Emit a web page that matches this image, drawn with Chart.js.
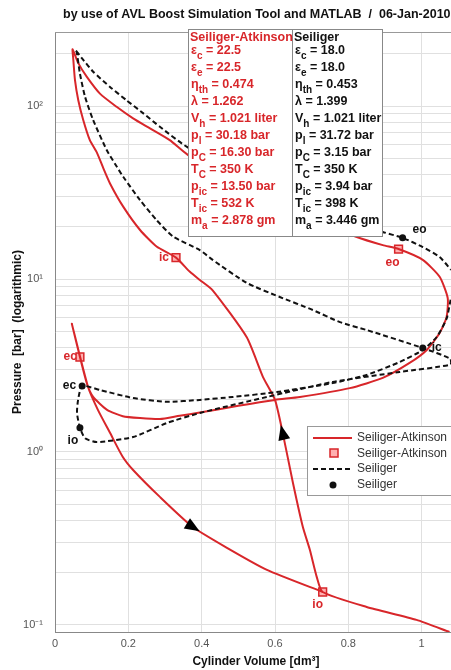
<!DOCTYPE html>
<html>
<head>
<meta charset="utf-8">
<script src="https://cdn.jsdelivr.net/npm/chart.js@4.4.1/dist/chart.umd.min.js"></script>
<style>
  html, body { margin: 0; padding: 0; background: #fff; }
  #pv { display: block; }
</style>
</head>
<body>
<canvas id="pv" width="451" height="670"></canvas>
<script>
// Seiliger-Atkinson cycle as one continuous path: volume [dm3] / pressure [bar]
const saVol = [1.076, 0.986, 0.85, 0.73, 0.714, 0.695, 0.676, 0.649, 0.621, 0.6, 0.567, 0.523, 0.43, 0.395, 0.368, 0.33,
  0.277, 0.232, 0.186, 0.15, 0.132, 0.114, 0.095, 0.077, 0.0635, 0.0545, 0.05, 0.048,
  0.0635, 0.0864, 0.1226, 0.168, 0.213, 0.259, 0.313, 0.363, 0.6, 0.823, 0.894, 0.937, 1.003, 1.049, 1.071, 1.068,
  1.049, 1.014, 0.967, 0.894, 0.804, 0.668, 0.6, 0.5, 0.395, 0.34, 0.286, 0.232, 0.185, 0.142, 0.104, 0.088, 0.068, 0.046,
  0.09, 0.117, 0.15, 0.185, 0.213, 0.286, 0.376, 0.469, 0.578, 0.73];
const saPres = [0.091, 0.107, 0.127, 0.155, 0.189, 0.272, 0.368, 0.662, 1.29, 2.0, 2.72, 4.6, 8.6, 9.87, 11.0, 13.3,
  15.4, 19.2, 26.2, 35.7, 43.6, 54, 63.5, 83, 108, 141, 185, 213,
  177, 148, 118, 99, 84.9, 74.3, 63.5, 52.1, 27, 17.5, 15.7, 14.9, 12.9, 10.3, 7.77, 6.03,
  4.87, 3.89, 3.27, 2.68, 2.34, 2.08, 2.0, 1.85, 1.69, 1.62, 1.55, 1.57, 1.61, 1.75, 2.08, 2.45, 3.54, 5.5,
  2.38, 1.75, 1.29, 0.935, 0.787, 0.55, 0.368, 0.279, 0.208, 0.155];

// Seiliger cycle as one continuous path
const sVol = [1.079, 1.068, 1.041, 1.003, 0.94, 0.85, 0.757, 0.605, 0.485, 0.395, 0.305, 0.213, 0.123, 0.074,
  0.063, 0.06, 0.068, 0.082, 0.114, 0.213, 0.305, 0.395, 0.578, 0.757, 0.94, 1.079,
  1.079, 1.003, 0.85, 0.777, 0.703, 0.613, 0.523, 0.43, 0.395, 0.322, 0.277, 0.232, 0.186, 0.163, 0.141, 0.104, 0.082, 0.068, 0.059, 0.055,
  0.077, 0.104, 0.15, 0.195, 0.241, 0.286, 0.359, 0.6, 0.894, 0.948, 1.003, 1.049, 1.08];
const sPres = [7.6, 5.9, 4.62, 3.89, 3.31, 2.79, 2.5, 2.22, 2.08, 2.0, 1.95, 2.05, 2.28, 2.41,
  2.0, 1.68, 1.38, 1.2, 1.14, 1.22, 1.47, 1.68, 2.08, 2.54, 2.9, 3.2,
  3.45, 3.99, 5.07, 5.63, 6.62, 7.87, 9.49, 12.9, 14.7, 17.6, 21.9, 28.6, 39, 46.6, 55.7, 83, 113, 154, 206, 212,
  185, 158, 129, 108, 90.7, 75.9, 58.2, 30, 18.7, 17.3, 15.3, 13.4, 11.3];

// valve events
const saMarkVol = [0.33, 0.937, 0.068, 0.73];
const saMarkPres = [13.3, 14.9, 3.54, 0.155];
const saMarkText = ['ic', 'eo', 'ec', 'io'];
const sMarkVol = [0.948, 1.003, 0.074, 0.068];
const sMarkPres = [17.3, 3.99, 2.41, 1.38];
const sMarkText = ['eo', 'ic', 'ec', 'io'];

const xTicks = [0, 0.2, 0.4, 0.6, 0.8, 1];
const yTicks = [0.1, 0.2, 0.3, 0.4, 0.5, 0.6, 0.7, 0.8, 0.9, 1, 2, 3, 4, 5, 6, 7, 8, 9,
  10, 20, 30, 40, 50, 60, 70, 80, 90, 100, 200];
const yTickText = { 0.1: '10⁻¹', 1: '10⁰', 10: '10¹', 100: '10²' };

const saParams = ['ε_c = 22.5', 'ε_e = 22.5', 'η_th = 0.474', 'λ = 1.262', 'V_h = 1.021 liter', 'p_l = 30.18 bar',
  'p_C = 16.30 bar', 'T_C = 350 K', 'p_ic = 13.50 bar', 'T_ic = 532 K', 'm_a = 2.878 gm'];
const sParams = ['ε_c = 18.0', 'ε_e = 18.0', 'η_th = 0.453', 'λ = 1.399', 'V_h = 1.021 liter', 'p_l = 31.72 bar',
  'p_C = 3.15 bar', 'T_C = 350 K', 'p_ic = 3.94 bar', 'T_ic = 398 K', 'm_a = 3.446 gm'];

const RED = '#d8262a';
const FONT = '"Liberation Sans", Arial, sans-serif';

const pts = (xs, ys) => xs.map((x, i) => ({ x: x, y: ys[i] }));

// label offsets in pixels from the marker: [dx, dy, align]
const saLabelPos = [[-7, 0, 'right'], [-6, 14, 'center'], [-3, 0, 'right'], [-5, 13, 'center']];
const sLabelPos = [[10, -8, 'left'], [9, 0, 'left'], [-6, 0, 'right'], [-7, 13, 'center']];

// draws "p_ic = 13.50 bar" with a subscript part
function richText(ctx, x, y, str, size) {
    let main = str, sub = '', rest = '';
    const u = str.indexOf('_');
    if (u >= 0) {
        main = str.slice(0, u);
        const sp = str.indexOf(' ', u);
        sub = str.slice(u + 1, sp);
        rest = str.slice(sp);
    }
    ctx.font = 'bold ' + size + 'px ' + FONT;
    ctx.fillText(main, x, y);
    x += ctx.measureText(main).width;
    if (sub) {
        ctx.font = 'bold ' + Math.round(size * 0.78) + 'px ' + FONT;
        ctx.fillText(sub, x, y + 5);
        x += ctx.measureText(sub).width;
        ctx.font = 'bold ' + size + 'px ' + FONT;
        ctx.fillText(rest, x, y);
    }
}

function arrowHead(ctx, from, to) {
    const a = Math.atan2(to.y - from.y, to.x - from.x);
    ctx.save();
    ctx.translate(from.x, from.y);
    ctx.rotate(a);
    ctx.beginPath();
    ctx.moveTo(8, 0);
    ctx.lineTo(-7, -6);
    ctx.lineTo(-7, 6);
    ctx.closePath();
    ctx.fillStyle = '#000';
    ctx.fill();
    ctx.restore();
}

const decorations = {
    id: 'decorations',
    afterDatasetsDraw(chart) {
        const ctx = chart.ctx;
        const xs = chart.scales.x, ys = chart.scales.y;
        const px = (v, p) => ({ x: xs.getPixelForValue(v), y: ys.getPixelForValue(p) });
        const area = chart.chartArea;

        ctx.save();
        // top frame line
        ctx.strokeStyle = '#999';
        ctx.lineWidth = 1;
        ctx.beginPath();
        ctx.moveTo(area.left, area.top + 0.5);
        ctx.lineTo(area.right, area.top + 0.5);
        ctx.stroke();

        // arrows
        arrowHead(ctx, px(0.621, 1.29), px(0.6, 2.0));
        arrowHead(ctx, px(0.376, 0.368), px(0.469, 0.279));

        // valve event labels
        ctx.font = 'bold 12px ' + FONT;
        ctx.textBaseline = 'middle';
        saMarkText.forEach((t, i) => {
            const p = px(saMarkVol[i], saMarkPres[i]);
            ctx.fillStyle = RED;
            ctx.textAlign = saLabelPos[i][2];
            ctx.fillText(t, p.x + saLabelPos[i][0], p.y + saLabelPos[i][1]);
        });
        sMarkText.forEach((t, i) => {
            const p = px(sMarkVol[i], sMarkPres[i]);
            ctx.fillStyle = '#111';
            ctx.textAlign = sLabelPos[i][2];
            ctx.fillText(t, p.x + sLabelPos[i][0], p.y + sLabelPos[i][1]);
        });

        // parameter table
        const bx = 188, by = 29, bw = 194, bh = 207, mid = 292;
        ctx.fillStyle = '#fff';
        ctx.fillRect(bx, by, bw, bh);
        ctx.strokeStyle = '#888';
        ctx.strokeRect(bx + 0.5, by + 0.5, bw, bh);
        ctx.beginPath();
        ctx.moveTo(mid + 0.5, by);
        ctx.lineTo(mid + 0.5, by + bh);
        ctx.stroke();
        ctx.textAlign = 'left';
        ctx.fillStyle = RED;
        ctx.font = 'bold 12.5px ' + FONT;
        ctx.fillText('Seiliger-Atkinson', bx + 2, by + 9);
        ctx.fillStyle = '#111';
        ctx.fillText('Seiliger', mid + 2, by + 9);
        saParams.forEach((s, i) => {
            ctx.fillStyle = RED;
            richText(ctx, bx + 3, by + 22 + i * 17, s, 12.5);
        });
        sParams.forEach((s, i) => {
            ctx.fillStyle = '#111';
            richText(ctx, mid + 3, by + 22 + i * 17, s, 12.5);
        });

        // legend
        const lx = 307, ly = 426;
        ctx.fillStyle = '#fff';
        ctx.fillRect(lx, ly, 150, 69);
        ctx.strokeStyle = '#999';
        ctx.strokeRect(lx + 0.5, ly + 0.5, 150, 69);
        ctx.lineWidth = 2;
        ctx.strokeStyle = RED;
        ctx.beginPath(); ctx.moveTo(313, 438); ctx.lineTo(352, 438); ctx.stroke();
        ctx.fillStyle = '#ffb0b0';
        ctx.fillRect(330, 449, 8, 8);
        ctx.lineWidth = 1.5;
        ctx.strokeRect(330, 449, 8, 8);
        ctx.lineWidth = 2;
        ctx.strokeStyle = '#111';
        ctx.setLineDash([5, 3]);
        ctx.beginPath(); ctx.moveTo(313, 469); ctx.lineTo(352, 469); ctx.stroke();
        ctx.setLineDash([]);
        ctx.fillStyle = '#111';
        ctx.beginPath(); ctx.arc(333, 485, 3.5, 0, Math.PI * 2); ctx.fill();
        ctx.fillStyle = '#333';
        ctx.font = '12px ' + FONT;
        ['Seiliger-Atkinson', 'Seiliger-Atkinson', 'Seiliger', 'Seiliger'].forEach((t, i) => {
            ctx.fillText(t, 357, [438, 454, 469, 485][i]);
        });

        // titles
        ctx.fillStyle = '#111';
        const title = 'by use of AVL Boost Simulation Tool and MATLAB  /  06-Jan-2010';
        ctx.font = 'bold 12px ' + FONT;
        const tsize = 12 * 388 / ctx.measureText(title).width;
        ctx.font = 'bold ' + tsize.toFixed(2) + 'px ' + FONT;
        ctx.fillText(title, 63, 15);
        ctx.font = 'bold 12px ' + FONT;
        ctx.textAlign = 'center';
        ctx.fillText('Cylinder Volume [dm³]', 256, 662);
        ctx.translate(18, 332);
        ctx.rotate(-Math.PI / 2);
        ctx.fillText('Pressure  [bar]  (logarithmic)', 0, 0);
        ctx.restore();
    }
};

new Chart(document.getElementById('pv'), {
    type: 'scatter',
    data: {
        datasets: [
            {
                label: 'Seiliger',
                data: pts(sVol, sPres),
                showLine: true,
                borderColor: '#111',
                borderWidth: 2,
                borderDash: [5, 3],
                pointRadius: 0,
                tension: 0.2
            },
            {
                label: 'Seiliger-Atkinson',
                data: pts(saVol, saPres),
                showLine: true,
                borderColor: RED,
                borderWidth: 2,
                pointRadius: 0,
                tension: 0.2
            },
            {
                label: 'Seiliger-Atkinson',
                data: pts(saMarkVol, saMarkPres),
                pointStyle: 'rect',
                pointRadius: 5.5,
                borderWidth: 1.5,
                borderColor: RED,
                backgroundColor: '#ffb0b0'
            },
            {
                label: 'Seiliger',
                data: pts(sMarkVol, sMarkPres),
                pointStyle: 'circle',
                pointRadius: 3.5,
                borderWidth: 0,
                backgroundColor: '#111'
            }
        ]
    },
    options: {
        responsive: false,
        animation: false,
        layout: { autoPadding: false, padding: { top: 32, left: 0, right: 0, bottom: 0 } },
        plugins: {
            legend: { display: false },
            tooltip: { enabled: false }
        },
        scales: {
            x: {
                type: 'linear',
                min: 0,
                max: 1.08,
                afterFit: (s) => { s.height = 38; s.paddingLeft = 0; s.paddingRight = 0; },
                afterBuildTicks: (s) => {
                    s.ticks = xTicks.map(v => ({ value: v }));
                    s.min = 0;
                    s.max = 1.08;
                },
                ticks: {
                    autoSkip: false,
                    padding: 5,
                    color: '#555',
                    font: { family: FONT, size: 11 },
                    callback: (v) => String(v)
                },
                grid: { color: '#e0e0e0', drawTicks: false },
                border: { color: '#888' }
            },
            y: {
                type: 'logarithmic',
                min: 0.091,
                max: 268,
                afterFit: (s) => { s.width = 55; s.paddingTop = 0; s.paddingBottom = 0; },
                afterBuildTicks: (s) => {
                    s.ticks = yTicks.map(v => ({ value: v }));
                    s.min = 0.091;
                    s.max = 268;
                },
                ticks: {
                    autoSkip: false,
                    padding: 12,
                    color: '#555',
                    font: { family: FONT, size: 11 },
                    callback: (v) => yTickText[v] || ''
                },
                grid: { color: '#e0e0e0', drawTicks: false },
                border: { color: '#888' }
            }
        }
    },
    plugins: [decorations]
});
</script>
</body>
</html>
